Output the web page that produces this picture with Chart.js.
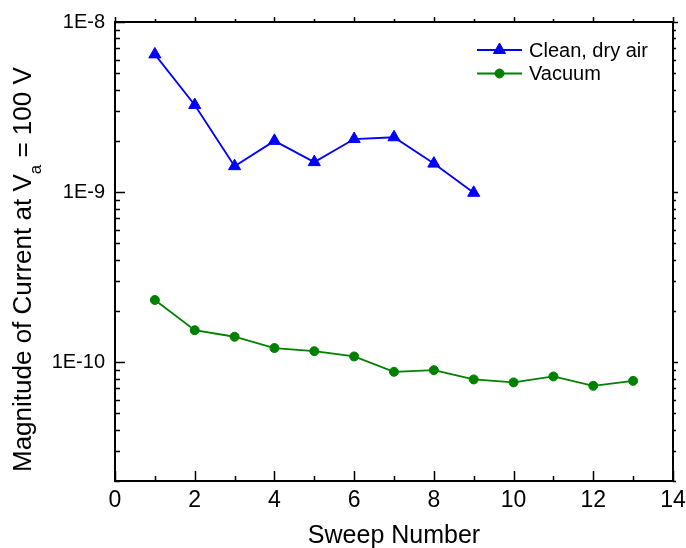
<!DOCTYPE html>
<html><head><meta charset="utf-8">
<script src="https://cdn.jsdelivr.net/npm/chart.js@4"></script>
<style>html,body{margin:0;padding:0;background:#fff}</style>
</head><body>
<canvas id="c" width="686" height="548" style="display:block;width:686px;height:548px"></canvas>
<script>
const sweepAir = [1, 2, 3, 4, 5, 6, 7, 8, 9];
const currentAir = [6.45e-9, 3.25e-9, 1.42e-9, 2.0e-9, 1.50e-9, 2.05e-9, 2.1e-9, 1.47e-9, 0.99e-9];
const sweepVac = [1, 2, 3, 4, 5, 6, 7, 8, 9, 10, 11, 12, 13];
const currentVac = [2.32e-10, 1.54e-10, 1.41e-10, 1.21e-10, 1.16e-10, 1.08e-10, 8.77e-11, 8.97e-11, 7.91e-11, 7.6e-11, 8.24e-11, 7.26e-11, 7.76e-11];
const seriesNames = ['Clean, dry air', 'Vacuum'];
const xTickValues = [0, 2, 4, 6, 8, 10, 12, 14];
const xMinorValues = [1, 3, 5, 7, 9, 11, 13];
const yMajorValues = [1e-10, 1e-9, 1e-8];
const yMajorLabels = ['1E-10', '1E-9', '1E-8'];
const yMinorMantissas = [2, 3, 4, 5, 6, 7, 8, 9];
const yTitleMain = 'Magnitude of Current at V';
const yTitleSub = 'a';
const yTitleEnd = ' = 100 V';
const xTitle = 'Sweep Number';

const FONT = "'Liberation Sans', Arial, sans-serif";

function yAllTicks() {
  const t = [];
  [-11, -10, -9].forEach(e => {
    [1].concat(yMinorMantissas).forEach(m => {
      const v = m * Math.pow(10, e);
      if (v >= 2e-11 * 0.999 && v <= 1e-8 * 1.001) t.push(v);
    });
  });
  t.push(1e-8);
  return t;
}
function labelFor(v) {
  for (let i = 0; i < yMajorValues.length; i++) {
    if (Math.abs(v / yMajorValues[i] - 1) < 1e-6) return yMajorLabels[i];
  }
  return '';
}

const framePlugin = {
  id: 'frame',
  afterDraw(chart) {
    const ctx = chart.ctx;
    const a = chart.chartArea;
    const xs = chart.scales.x, ys = chart.scales.y;
    ctx.save();
    ctx.strokeStyle = '#000';
    ctx.lineWidth = 2;
    ctx.strokeRect(a.left, a.top, a.right - a.left, a.bottom - a.top);
    ctx.lineWidth = 1.5;
    ctx.beginPath();
    xTickValues.forEach(v => {
      const px = Math.round(xs.getPixelForValue(v)) + 0.5;
      ctx.moveTo(px, a.bottom); ctx.lineTo(px, a.bottom - 10);
      ctx.moveTo(px, a.top); ctx.lineTo(px, a.top - 5);
    });
    xMinorValues.forEach(v => {
      const px = Math.round(xs.getPixelForValue(v)) + 0.5;
      ctx.moveTo(px, a.bottom); ctx.lineTo(px, a.bottom - 5);
      ctx.moveTo(px, a.top); ctx.lineTo(px, a.top - 3);
    });
    yAllTicks().forEach(v => {
      const py = Math.round(ys.getPixelForValue(v)) + 0.5;
      const major = labelFor(v) !== '';
      ctx.moveTo(a.left, py); ctx.lineTo(a.left + (major ? 10 : 5), py);
      ctx.moveTo(a.right, py); ctx.lineTo(a.right + (major ? 5 : 3), py);
    });
    ctx.stroke();

    // x title
    ctx.fillStyle = '#000';
    ctx.font = '25px ' + FONT;
    ctx.textAlign = 'center';
    ctx.textBaseline = 'alphabetic';
    ctx.fillText(xTitle, (a.left + a.right) / 2, 543);

    // y title with subscript
    ctx.translate(31, 472);
    ctx.rotate(-Math.PI / 2);
    ctx.textBaseline = 'alphabetic';
    ctx.textAlign = 'left';
    ctx.font = '26px ' + FONT;
    let x = 0;
    ctx.fillText(yTitleMain, x, 0);
    x += ctx.measureText(yTitleMain).width;
    ctx.font = '17px ' + FONT;
    ctx.fillText(yTitleSub, x, 10);
    x += ctx.measureText(yTitleSub).width;
    ctx.font = '26px ' + FONT;
    ctx.fillText(yTitleEnd, x, 0);
    ctx.restore();

    // legend
    ctx.save();
    const rows = [50, 73.5];
    chart.data.datasets.forEach((ds, i) => {
      const y = rows[i];
      ctx.strokeStyle = ds.borderColor;
      ctx.lineWidth = ds.borderWidth;
      ctx.beginPath();
      ctx.moveTo(477, y); ctx.lineTo(522, y);
      ctx.stroke();
      ctx.fillStyle = ds.pointBackgroundColor;
      ctx.strokeStyle = ds.pointBorderColor;
      ctx.lineWidth = 1;
      Chart.helpers.drawPoint(ctx, {
        pointStyle: ds.pointStyle, radius: ds.pointRadius, borderWidth: 1, rotation: 0
      }, 499.5, y);
      ctx.fillStyle = '#000';
      ctx.font = '20px ' + FONT;
      ctx.textBaseline = 'middle';
      ctx.textAlign = 'left';
      ctx.fillText(ds.label, 529, y + 1);
    });
    ctx.restore();
  }
};

const ctxEl = document.getElementById('c');
new Chart(ctxEl, {
  type: 'line',
  data: {
    datasets: [
      {
        label: seriesNames[0],
        data: sweepAir.map((s, i) => ({ x: s, y: currentAir[i] })),
        borderColor: '#0000ff', backgroundColor: '#0000ff',
        borderWidth: 1.8, pointStyle: 'triangle', pointRadius: 7,
        pointBorderWidth: 1, pointBackgroundColor: '#0000ff', pointBorderColor: '#0000ff',
        tension: 0, fill: false
      },
      {
        label: seriesNames[1],
        data: sweepVac.map((s, i) => ({ x: s, y: currentVac[i] })),
        borderColor: '#008000', backgroundColor: '#008000',
        borderWidth: 1.8, pointStyle: 'circle', pointRadius: 4.5,
        pointBorderWidth: 1, pointBackgroundColor: '#008000', pointBorderColor: '#008000',
        tension: 0, fill: false
      }
    ]
  },
  options: {
    responsive: false,
    devicePixelRatio: 1,
    animation: false,
    layout: { padding: { top: 22, right: 13, left: 0, bottom: 0 } },
    plugins: { legend: { display: false }, tooltip: { enabled: false } },
    scales: {
      x: {
        type: 'linear', min: 0, max: 14,
        grid: { display: false, drawTicks: false }, border: { display: false },
        afterBuildTicks(scale) { scale.ticks = xTickValues.map(v => ({ value: v })); },
        ticks: { color: '#000', font: { family: FONT, size: 23 }, padding: 6, maxRotation: 0, autoSkip: false },
        title: { display: false },
        afterFit(scale) { scale.height = 67; scale.paddingLeft = 0; scale.paddingRight = 0; }
      },
      y: {
        type: 'logarithmic', min: 2e-11, max: 1e-8,
        grid: { display: false, drawTicks: false }, border: { display: false },
        afterBuildTicks(scale) { scale.ticks = yAllTicks().map(v => ({ value: v })); },
        ticks: { color: '#000', font: { family: FONT, size: 20 }, padding: 10, autoSkip: false, callback: v => labelFor(v) },
        afterFit(scale) { scale.width = 115; scale.paddingTop = 0; scale.paddingBottom = 0; }
      }
    }
  },
  plugins: [framePlugin]
});
</script>
</body></html>
